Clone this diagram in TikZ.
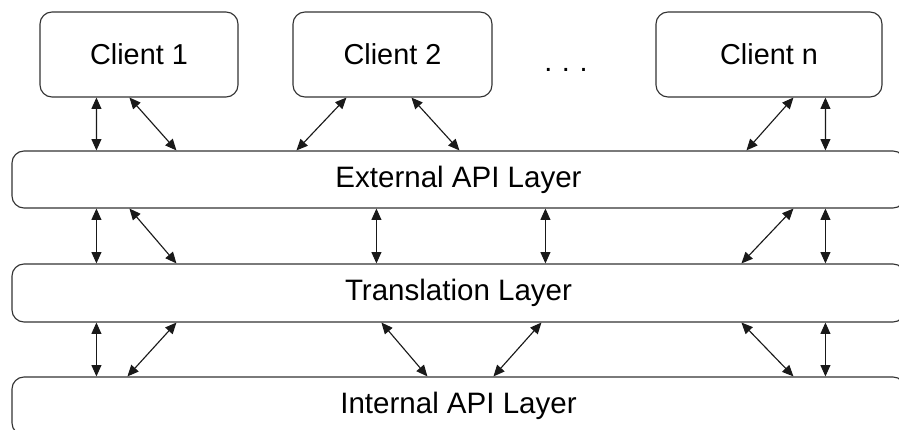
\documentclass[tikz,border=0pt]{standalone}
\usepackage{fontspec}
\setmainfont{Liberation Sans}
\usepackage{tikz}
\usetikzlibrary{arrows.meta}
\usetikzlibrary{positioning}
\usepackage{xcolor}
\definecolor{linegray}{HTML}{333333}

\begin{document}
\begin{tikzpicture}
      \tikzstyle{client}=[draw=linegray, line width=0.8pt, rounded corners=0.3cm, rectangle, font=\fontsize{20.5}{24}\selectfont, minimum height=2.125cm]
      \tikzstyle{layer}=[draw=linegray, line width=0.8pt, rounded corners=0.3cm, rectangle, font=\fontsize{21}{25}\selectfont, minimum width=22.325cm, minimum height=1.45cm]
      \tikzstyle{link}=[draw=black!90, line width=0.8pt, {Triangle[length=8pt,width=7pt]}-{Triangle[length=8pt,width=7pt]}]

      \useasboundingbox (0cm, 0cm) rectangle (22.475cm, -10.75cm);

      \node[client, minimum width=4.95cm] (client1) at (3.475cm, -1.3625cm) {Client 1};
      \node[client, minimum width=4.975cm] (client2) at (9.8125cm, -1.3625cm) {Client 2};
      \node[client, minimum width=5.65cm] (clientn) at (19.225cm, -1.3625cm) {Client n};
      \node[font=\fontsize{20.5}{24}\selectfont] (dots) at (14.15cm, -1.75cm) {.\,\,.\,\,.};

      \node[layer, minimum height=1.425cm] (external) at (11.4625cm, -4.4875cm) {External API Layer};
      \node[layer] (translation) at (11.4625cm, -7.325cm) {Translation Layer};
      \node[layer] (internal) at (11.4625cm, -10.15cm) {Internal API Layer};

      % clients <-> external
      \draw[link] ([xshift=1.425cm]client1.south west) -- ([xshift=2.125cm]external.north west);
      \draw[link] ([xshift=2.25cm]client1.south west) -- ([xshift=4.125cm]external.north west);
      \draw[link] ([xshift=1.35cm]client2.south west) -- ([xshift=7.125cm]external.north west);
      \draw[link] ([xshift=2.975cm]client2.south west) -- ([xshift=11.2cm]external.north west);
      \draw[link] ([xshift=3.45cm]clientn.south west) -- ([xshift=18.375cm]external.north west);
      \draw[link] ([xshift=4.25cm]clientn.south west) -- ([xshift=20.35cm]external.north west);

      % external <-> translation
      \draw[link] ([xshift=2.125cm]external.south west) -- ([xshift=2.125cm]translation.north west);
      \draw[link] ([xshift=2.95cm]external.south west) -- ([xshift=4.125cm]translation.north west);
      \draw[link] ([xshift=9.125cm]external.south west) -- ([xshift=9.125cm]translation.north west);
      \draw[link] ([xshift=13.35cm]external.south west) -- ([xshift=13.35cm]translation.north west);
      \draw[link] ([xshift=19.55cm]external.south west) -- ([xshift=18.25cm]translation.north west);
      \draw[link] ([xshift=20.35cm]external.south west) -- ([xshift=20.35cm]translation.north west);

      % translation <-> internal
      \draw[link] ([xshift=2.125cm]translation.south west) -- ([xshift=2.125cm]internal.north west);
      \draw[link] ([xshift=4.125cm]translation.south west) -- ([xshift=2.9cm]internal.north west);
      \draw[link] ([xshift=9.25cm]translation.south west) -- ([xshift=10.4cm]internal.north west);
      \draw[link] ([xshift=13.25cm]translation.south west) -- ([xshift=12.05cm]internal.north west);
      \draw[link] ([xshift=18.25cm]translation.south west) -- ([xshift=19.55cm]internal.north west);
      \draw[link] ([xshift=20.35cm]translation.south west) -- ([xshift=20.35cm]internal.north west);
    \end{tikzpicture}
\end{document}
